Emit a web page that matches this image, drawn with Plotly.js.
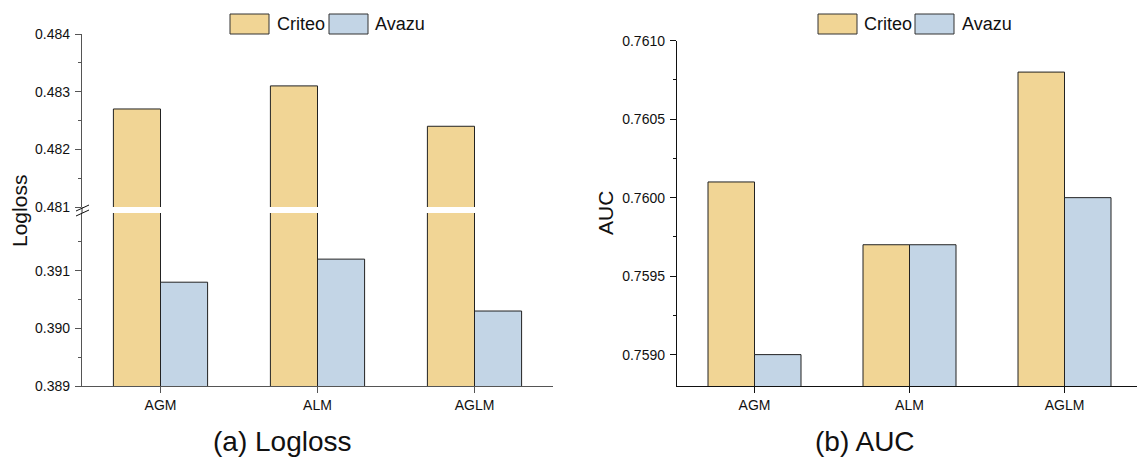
<!DOCTYPE html>
<html>
<head>
<meta charset="utf-8">
<script src="https://cdn.plot.ly/plotly-3.0.1.min.js"></script>
<style>
  html, body { margin: 0; padding: 0; background: #fff; }
  #chart { width: 1137px; height: 457px; }
</style>
</head>
<body>
<div id="chart"></div>
<script>
// ---- data ----
const categories = ['AGM', 'ALM', 'AGLM'];
const seriesNames = ['Criteo', 'Avazu'];
const loglossCriteo = [0.4827, 0.4831, 0.4824];
const loglossAvazu = [0.3908, 0.3912, 0.3903];
const aucCriteo = [0.7601, 0.7597, 0.7608];
const aucAvazu = [0.7590, 0.7597, 0.7600];
const loglossTicksLow = [0.389, 0.390, 0.391];
const loglossTicksHigh = [0.481, 0.482, 0.483, 0.484];
const aucTicks = [0.7590, 0.7595, 0.7600, 0.7605, 0.7610];
const subtitles = ['(a) Logloss', '(b) AUC'];
const yTitles = ['Logloss', 'AUC'];

// ---- style ----
const W = 1137, H = 457;
const FONT = 'Arial, "Liberation Sans", Helvetica, sans-serif';
const colors = ['#F1D595', '#C3D5E6'];
const outline = '#222222';
const px = v => v / W;
const py = v => 1 - v / H;

function mids(arr) {
  const out = [];
  for (let i = 0; i < arr.length - 1; i++) out.push((arr[i] + arr[i + 1]) / 2);
  return out;
}

const barCommon = (color) => ({
  type: 'bar', width: 0.3,
  marker: { color: color, line: { color: outline, width: 1 } },
  hoverinfo: 'skip', showlegend: false
});

const traces = [
  // Logloss, lower segment
  Object.assign(barCommon(colors[0]), { x: categories, y: loglossCriteo, offset: -0.3, xaxis: 'x', yaxis: 'y', name: seriesNames[0] }),
  Object.assign(barCommon(colors[1]), { x: categories, y: loglossAvazu, offset: 0, xaxis: 'x', yaxis: 'y', name: seriesNames[1] }),
  // Logloss, upper segment
  Object.assign(barCommon(colors[0]), { x: categories, y: loglossCriteo, offset: -0.3, xaxis: 'x', yaxis: 'y2', name: seriesNames[0] }),
  Object.assign(barCommon(colors[1]), { x: categories, y: loglossAvazu, offset: 0, xaxis: 'x', yaxis: 'y2', name: seriesNames[1] }),
  // AUC
  Object.assign(barCommon(colors[0]), { x: categories, y: aucCriteo, offset: -0.3, xaxis: 'x3', yaxis: 'y3', name: seriesNames[0] }),
  Object.assign(barCommon(colors[1]), { x: categories, y: aucAvazu, offset: 0, xaxis: 'x3', yaxis: 'y3', name: seriesNames[1] })
];

const tickFont = { family: FONT, size: 14, color: '#111' };
const leftAxisColor = '#555555';
const rightAxisColor = '#111111';

function yAxis(domain, range, tickvals, fmt, lineColor, minorVals) {
  return {
    domain: domain, range: range, anchor: 'x',
    tickmode: 'array', tickvals: tickvals,
    ticktext: tickvals.map(v => v.toFixed(fmt)),
    ticks: 'outside', ticklen: 6, tickwidth: 1, tickcolor: lineColor,
    showline: true, linecolor: lineColor, linewidth: 1.2,
    showgrid: false, zeroline: false,
    tickfont: tickFont, ticklabelstandoff: 2,
    minor: { tickmode: 'array', tickvals: minorVals, ticks: 'outside', ticklen: 3, tickwidth: 1, tickcolor: lineColor, showgrid: false },
    fixedrange: true
  };
}

const lowTop = 213, highBottom = 207;
const leftX0 = 82, leftX1 = 553;
const rightX0 = 677;

const layout = {
  width: W, height: H,
  margin: { l: 0, r: 0, t: 0, b: 0 },
  paper_bgcolor: '#ffffff', plot_bgcolor: 'rgba(0,0,0,0)',
  showlegend: false,
  font: { family: FONT, color: '#111' },
  xaxis: {
    domain: [px(leftX0), px(leftX1)], anchor: 'y', type: 'category', range: [-0.5, 2.5],
    ticks: 'outside', ticklen: 6, tickcolor: leftAxisColor, tickwidth: 1,
    showline: true, linecolor: leftAxisColor, linewidth: 1.2,
    showgrid: false, zeroline: false, tickfont: tickFont, fixedrange: true
  },
  yaxis: yAxis([py(386), py(lowTop)], [0.389, 0.392], loglossTicksLow, 3, leftAxisColor,
    loglossTicksLow.map(v => v + 0.0005)),
  yaxis2: yAxis([py(highBottom), py(34)], [0.481, 0.484], loglossTicksHigh, 3, leftAxisColor,
    mids(loglossTicksHigh)),
  xaxis3: {
    domain: [px(rightX0), 1], anchor: 'y3', type: 'category', range: [-0.5, -0.5 + (W - rightX0) / 155],
    ticks: 'outside', ticklen: 6, tickcolor: rightAxisColor, tickwidth: 1,
    showline: true, linecolor: rightAxisColor, linewidth: 1.2,
    showgrid: false, zeroline: false, tickfont: tickFont, fixedrange: true
  },
  yaxis3: Object.assign(yAxis([py(386), py(40.7)], [0.7588, 0.7610], aucTicks, 4, rightAxisColor,
    mids(aucTicks)), { anchor: 'x3' }),
  shapes: [],
  annotations: []
};

// continuous y-axis line through the break + break marks
layout.shapes.push({ type: 'line', xref: 'paper', yref: 'paper', x0: px(leftX0), x1: px(leftX0), y0: py(lowTop), y1: py(highBottom), line: { color: leftAxisColor, width: 1.2 } });
layout.shapes.push({ type: 'line', xref: 'paper', yref: 'paper', x0: px(76), x1: px(89), y0: py(211), y1: py(205), line: { color: '#111', width: 1 } });
layout.shapes.push({ type: 'line', xref: 'paper', yref: 'paper', x0: px(76), x1: px(89), y0: py(216), y1: py(210), line: { color: '#111', width: 1 } });

// manual legends
const legendSpecs = [
  { swatches: [230, 329], texts: [275, 373] },
  { swatches: [818, 915], texts: [862, 960] }
];
legendSpecs.forEach(spec => {
  seriesNames.forEach((name, i) => {
    layout.shapes.push({
      type: 'rect', xref: 'paper', yref: 'paper',
      x0: px(spec.swatches[i]), x1: px(spec.swatches[i] + 39), y0: py(34), y1: py(14),
      fillcolor: colors[i], line: { color: '#333', width: 1 }
    });
    layout.annotations.push({
      xref: 'paper', yref: 'paper', x: px(spec.texts[i]), y: py(24.5),
      xanchor: 'left', yanchor: 'middle', showarrow: false,
      text: name, font: { family: FONT, size: 18, color: '#111' }
    });
  });
});

// y titles
layout.annotations.push({ xref: 'paper', yref: 'paper', x: px(19), y: py(211), textangle: -90,
  xanchor: 'center', yanchor: 'middle', showarrow: false, text: yTitles[0], font: { family: FONT, size: 21, color: '#111' } });
layout.annotations.push({ xref: 'paper', yref: 'paper', x: px(605), y: py(213), textangle: -90,
  xanchor: 'center', yanchor: 'middle', showarrow: false, text: yTitles[1], font: { family: FONT, size: 21, color: '#111' } });

// subtitles
layout.annotations.push({ xref: 'paper', yref: 'paper', x: px(282), y: py(441), xanchor: 'center', yanchor: 'middle',
  showarrow: false, text: subtitles[0], font: { family: FONT, size: 28, color: '#111' } });
layout.annotations.push({ xref: 'paper', yref: 'paper', x: px(865), y: py(441), xanchor: 'center', yanchor: 'middle',
  showarrow: false, text: subtitles[1], font: { family: FONT, size: 28, color: '#111' } });

Plotly.newPlot('chart', traces, layout, { displayModeBar: false, staticPlot: true });
</script>
</body>
</html>
